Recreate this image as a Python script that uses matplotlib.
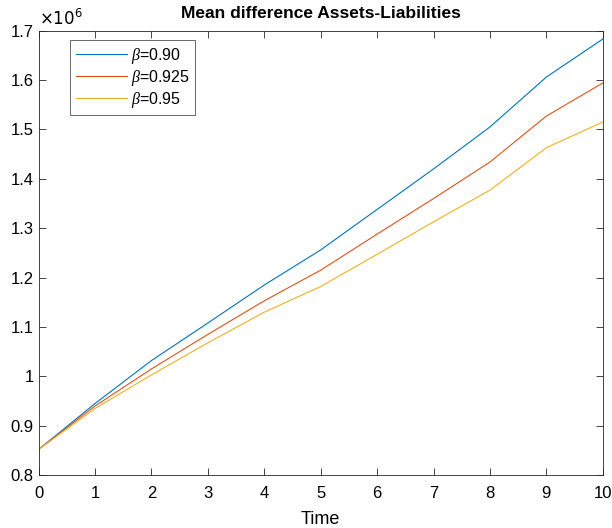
import numpy as np
import matplotlib
matplotlib.use("Agg")
import matplotlib.pyplot as plt

plt.rcParams['font.family'] = ['Liberation Sans', 'DejaVu Sans']
plt.rcParams['mathtext.fontset'] = 'custom'
plt.rcParams['mathtext.it'] = 'Liberation Serif:italic'

t = np.arange(0, 11)
beta090 = np.array([0.852, 0.945, 1.032, 1.108, 1.185, 1.256, 1.338, 1.420, 1.505, 1.606, 1.683]) * 1e6
beta0925 = np.array([0.852, 0.940, 1.015, 1.085, 1.153, 1.215, 1.288, 1.360, 1.434, 1.527, 1.594]) * 1e6
beta095 = np.array([0.852, 0.935, 1.003, 1.068, 1.130, 1.182, 1.247, 1.313, 1.377, 1.463, 1.515]) * 1e6
labels = [r'$\beta$=0.90', r'$\beta$=0.925', r'$\beta$=0.95']
colors = ['#0072BD', '#D95319', '#EDB120']

fig = plt.figure(figsize=(6.12, 5.28), dpi=100)
ax = fig.add_axes([0.063, 0.100, 0.922, 0.842])

for y, lab, c in zip([beta090, beta0925, beta095], labels, colors):
    ax.plot(t, y, color=c, lw=0.8, label=lab)

ax.set_xlim(0, 10)
ax.set_ylim(0.8e6, 1.7e6)
ax.set_xticks(np.arange(0, 11))
yt = np.arange(0.8, 1.71, 0.1)
ax.set_yticks(yt * 1e6)
ax.set_yticklabels(['0.8', '0.9', '1', '1.1', '1.2', '1.3', '1.4', '1.5', '1.6', '1.7'])
ax.tick_params(direction='in', top=True, right=True, labelsize=12, length=5, width=0.6, color='#262626')
ax.tick_params(axis='x', pad=8)
for s in ax.spines.values():
    s.set_linewidth(0.6)
    s.set_color('#262626')

ax.set_xlabel('Time', fontsize=13, labelpad=7)
ax.set_title('Mean difference Assets-Liabilities', fontsize=12.5, fontweight='bold', pad=9)
ax.text(0.0, 1.005, r'$\times10^6$', transform=ax.transAxes, fontsize=12,
        ha='left', va='bottom', math_fontfamily='dejavusans')

leg = ax.legend(loc='upper left', bbox_to_anchor=(0.056, 0.978), fontsize=11.5, frameon=True,
                fancybox=False, edgecolor='#262626', handlelength=3.2, borderpad=0.35,
                labelspacing=0.12, handletextpad=0.25, borderaxespad=0)
leg.get_frame().set_linewidth(0.6)

fig.savefig('out.png', dpi=100)
